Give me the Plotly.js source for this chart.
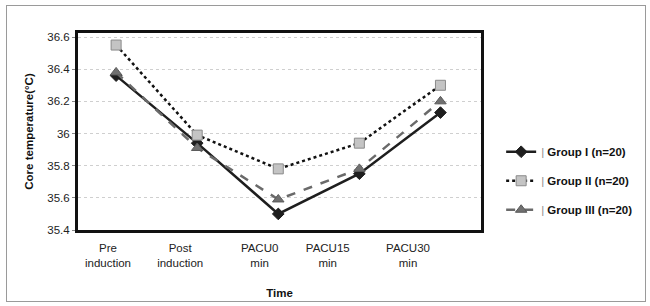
<!DOCTYPE html>
<html>
<head>
<meta charset="utf-8">
<script src="https://cdn.plot.ly/plotly-3.0.1.min.js"></script>
<style>
html,body{margin:0;padding:0;background:#fff;}
#wrap{position:relative;width:650px;height:306px;}
#chart{width:650px;height:306px;}
#frame{position:absolute;left:6px;top:5px;width:638px;height:295px;border:1px solid #9a9a9a;pointer-events:none;}
</style>
</head>
<body>
<div id="wrap"><div id="chart"></div><div id="frame"></div></div>
<script>
const categories = ["Pre<br>induction", "Post<br>induction", "PACU0<br>min", "PACU15<br>min", "PACU30<br>min"];
const groupI = [36.36, 35.94, 35.50, 35.75, 36.13];
const groupII = [36.55, 35.99, 35.78, 35.94, 36.30];
const groupIII = [36.38, 35.91, 35.59, 35.78, 36.20];
const yTicks = [35.4, 35.6, 35.8, 36, 36.2, 36.4, 36.6];
const yTickText = ["35.4", "35.6", "35.8", "36", "36.2", "36.4", "36.6"];
const seriesNames = ["Group I (n=20)", "Group II (n=20)", "Group III (n=20)"];

const xs = categories.map((c, i) => i);
const labelPos = [-0.1, 0.79, 1.77, 2.61, 3.6];
const legendName = n => "<span style='color:#8c8c8c;font-weight:normal'>|</span> " + n;

const traces = [
  {x: xs, y: groupI, name: legendName(seriesNames[0]), mode: "lines+markers", legendgroup: "a",
   line: {color: "#1e1e1e", width: 2.5, dash: "solid"},
   marker: {symbol: "diamond", size: 9, color: "#1e1e1e", line: {color: "#1e1e1e", width: 1}}},
  {x: xs, y: groupII, name: legendName(seriesNames[1]), mode: "lines+markers", legendgroup: "b",
   line: {color: "#111", width: 2.5, dash: "dot"},
   marker: {symbol: "square", size: 10, color: "#c4c4c4", line: {color: "#8a8a8a", width: 1}}},
  {x: xs, y: groupIII, name: legendName(seriesNames[2]), mode: "lines+markers", legendgroup: "c",
   line: {color: "#6a6a6a", width: 2.5, dash: "dash"},
   marker: {symbol: "triangle-up", size: 10, color: "#707070", line: {color: "#5a5a5a", width: 1}}}
];

const layout = {
  width: 650, height: 306,
  margin: {l: 78, r: 162, t: 33, b: 76},
  paper_bgcolor: "#fff", plot_bgcolor: "#fff",
  font: {family: "Liberation Sans, Arial, sans-serif", size: 11.5, color: "#222"},
  showlegend: true,
  legend: {x: 1.05, y: 0.25, xanchor: "left", yanchor: "middle", traceorder: "grouped",
    tracegroupgap: 10, font: {size: 11.5, color: "#111", weight: "bold"}, bgcolor: "rgba(0,0,0,0)"},
  xaxis: {range: [-0.47, 4.5], tickvals: labelPos, ticktext: categories, ticks: "",
    ticklabelstandoff: 5,
    showgrid: false, zeroline: false, showline: true, mirror: true, linewidth: 3, linecolor: "#111",
    tickfont: {size: 11.5, color: "#222"},
    title: {text: "Time", font: {size: 11.5, color: "#111", weight: "bold"}, standoff: 22}},
  yaxis: {range: [35.4, 36.625], tickvals: yTicks, ticktext: yTickText, ticks: "outside", ticklen: 3,
    tickcolor: "#888", showgrid: true, gridcolor: "#cfcfcf", griddash: "dot", gridwidth: 1,
    zeroline: false, showline: true, mirror: true, linewidth: 3, linecolor: "#111",
    tickfont: {size: 11.5, color: "#222"},
    title: {text: "Core temperature(°C)", font: {size: 11.5, color: "#111", weight: "bold"}, standoff: 12}}
};

Plotly.newPlot("chart", traces, layout, {displayModeBar: false, staticPlot: true});
</script>
</body>
</html>
